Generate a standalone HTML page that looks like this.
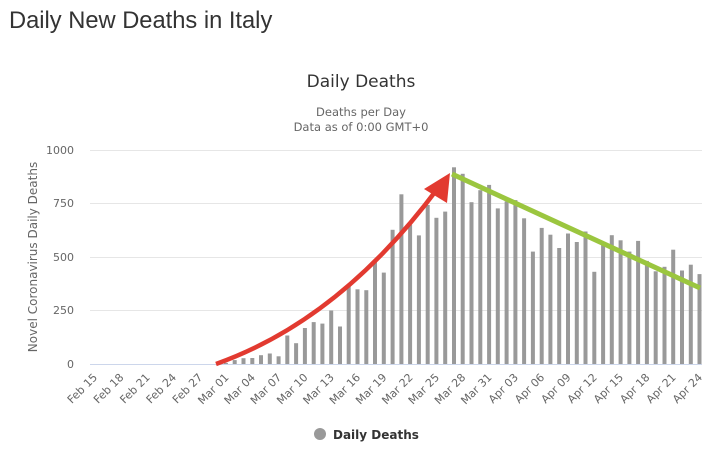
<!DOCTYPE html>
<html><head><meta charset="utf-8"><style>
body{margin:0;background:#fff;width:714px;height:450px;overflow:hidden;font-family:"Liberation Sans","DejaVu Sans",sans-serif}
</style></head><body>
<svg width="714" height="450" xmlns="http://www.w3.org/2000/svg" font-family="'DejaVu Sans',sans-serif">
<text x="9" y="28" font-family="'Liberation Sans',sans-serif" font-size="23.7" fill="#333">Daily New Deaths in Italy</text>
<text x="361" y="87" text-anchor="middle" font-size="17" fill="#333">Daily Deaths</text>
<text x="361" y="116" text-anchor="middle" font-size="11.5" fill="#666">Deaths per Day</text>
<text x="361" y="131" text-anchor="middle" font-size="11.5" fill="#666">Data as of 0:00 GMT+0</text>
<g stroke="#e6e6e6" stroke-width="1">
<line x1="90" x2="702" y1="150.5" y2="150.5"/><line x1="90" x2="702" y1="203.5" y2="203.5"/><line x1="90" x2="702" y1="257.5" y2="257.5"/><line x1="90" x2="702" y1="310.5" y2="310.5"/>
</g>
<line x1="90" x2="702" y1="364.5" y2="364.5" stroke="#ccd6eb"/>
<g font-size="11" fill="#666" text-anchor="end">
<text x="74" y="154">1000</text><text x="74" y="207">750</text><text x="74" y="261">500</text><text x="74" y="314">250</text><text x="74" y="368">0</text>
</g>
<text transform="translate(37,257) rotate(-90)" text-anchor="middle" font-size="12" fill="#666">Novel Coronavirus Daily Deaths</text>
<g fill="#999">
<rect x="223.9" y="362.9" width="4" height="1.1"/><rect x="232.7" y="360.1" width="4" height="3.9"/><rect x="241.5" y="358.2" width="4" height="5.8"/><rect x="250.3" y="358" width="4" height="6"/><rect x="259" y="355.2" width="4" height="8.8"/><rect x="267.8" y="353.5" width="4" height="10.5"/><rect x="276.6" y="356.3" width="4" height="7.7"/><rect x="285.3" y="335.5" width="4" height="28.5"/><rect x="294.1" y="343.2" width="4" height="20.8"/><rect x="302.9" y="328" width="4" height="36"/><rect x="311.7" y="322.1" width="4" height="41.9"/><rect x="320.4" y="323.6" width="4" height="40.4"/><rect x="329.2" y="310.5" width="4" height="53.5"/><rect x="338" y="326.5" width="4" height="37.5"/><rect x="346.7" y="285.2" width="4" height="78.8"/><rect x="355.5" y="289.3" width="4" height="74.7"/><rect x="364.3" y="290.2" width="4" height="73.8"/><rect x="373" y="262.3" width="4" height="101.7"/><rect x="381.8" y="272.6" width="4" height="91.4"/><rect x="390.6" y="229.8" width="4" height="134.2"/><rect x="399.4" y="194.3" width="4" height="169.7"/><rect x="408.1" y="224.7" width="4" height="139.3"/><rect x="416.9" y="235.4" width="4" height="128.6"/><rect x="425.7" y="205" width="4" height="159"/><rect x="434.4" y="217.8" width="4" height="146.2"/><rect x="443.2" y="211.6" width="4" height="152.4"/><rect x="452" y="167.3" width="4" height="196.7"/><rect x="460.7" y="173.8" width="4" height="190.2"/><rect x="469.5" y="202.2" width="4" height="161.8"/><rect x="478.3" y="190.2" width="4" height="173.8"/><rect x="487.1" y="184.9" width="4" height="179.1"/><rect x="495.8" y="208.4" width="4" height="155.6"/><rect x="504.6" y="201.4" width="4" height="162.6"/><rect x="513.4" y="200.1" width="4" height="163.9"/><rect x="522.1" y="218.3" width="4" height="145.7"/><rect x="530.9" y="251.6" width="4" height="112.4"/><rect x="539.7" y="227.9" width="4" height="136.1"/><rect x="548.4" y="234.7" width="4" height="129.3"/><rect x="557.2" y="248" width="4" height="116"/><rect x="566" y="233.5" width="4" height="130.5"/><rect x="574.8" y="242" width="4" height="122"/><rect x="583.5" y="231.5" width="4" height="132.5"/><rect x="592.3" y="271.8" width="4" height="92.2"/><rect x="601.1" y="242.9" width="4" height="121.1"/><rect x="609.8" y="235.2" width="4" height="128.8"/><rect x="618.6" y="240.3" width="4" height="123.7"/><rect x="627.4" y="251.6" width="4" height="112.4"/><rect x="636.1" y="240.9" width="4" height="123.1"/><rect x="644.9" y="260.9" width="4" height="103.1"/><rect x="653.7" y="271.3" width="4" height="92.7"/><rect x="662.5" y="266.8" width="4" height="97.2"/><rect x="671.2" y="249.7" width="4" height="114.3"/><rect x="680" y="270.5" width="4" height="93.5"/><rect x="688.8" y="264.7" width="4" height="99.3"/><rect x="697.5" y="274.1" width="4" height="89.9"/>
</g>
<g font-size="11" fill="#666" text-anchor="end">
<text transform="translate(98,378) rotate(-45)">Feb 15</text>
<text transform="translate(124.3,378) rotate(-45)">Feb 18</text>
<text transform="translate(150.6,378) rotate(-45)">Feb 21</text>
<text transform="translate(176.9,378) rotate(-45)">Feb 24</text>
<text transform="translate(203.2,378) rotate(-45)">Feb 27</text>
<text transform="translate(229.5,378) rotate(-45)">Mar 01</text>
<text transform="translate(255.8,378) rotate(-45)">Mar 04</text>
<text transform="translate(282.1,378) rotate(-45)">Mar 07</text>
<text transform="translate(308.4,378) rotate(-45)">Mar 10</text>
<text transform="translate(334.7,378) rotate(-45)">Mar 13</text>
<text transform="translate(361,378) rotate(-45)">Mar 16</text>
<text transform="translate(387.3,378) rotate(-45)">Mar 19</text>
<text transform="translate(413.6,378) rotate(-45)">Mar 22</text>
<text transform="translate(439.9,378) rotate(-45)">Mar 25</text>
<text transform="translate(466.2,378) rotate(-45)">Mar 28</text>
<text transform="translate(492.5,378) rotate(-45)">Mar 31</text>
<text transform="translate(518.8,378) rotate(-45)">Apr 03</text>
<text transform="translate(545.1,378) rotate(-45)">Apr 06</text>
<text transform="translate(571.4,378) rotate(-45)">Apr 09</text>
<text transform="translate(597.7,378) rotate(-45)">Apr 12</text>
<text transform="translate(624,378) rotate(-45)">Apr 15</text>
<text transform="translate(650.3,378) rotate(-45)">Apr 18</text>
<text transform="translate(676.6,378) rotate(-45)">Apr 21</text>
<text transform="translate(702.9,378) rotate(-45)">Apr 24</text>
</g>
<path d="M216,364 Q340,320 438,188" fill="none" stroke="#e23a30" stroke-width="4.5"/>
<polygon points="450,173 424,189 447,203" fill="#e23a30"/>
<line x1="452" y1="174" x2="700" y2="288" stroke="#9bc63f" stroke-width="5"/>
<circle cx="320" cy="434" r="6" fill="#999"/>
<text x="333" y="439" font-size="12" font-weight="bold" fill="#333">Daily Deaths</text>
</svg>
</body></html>
